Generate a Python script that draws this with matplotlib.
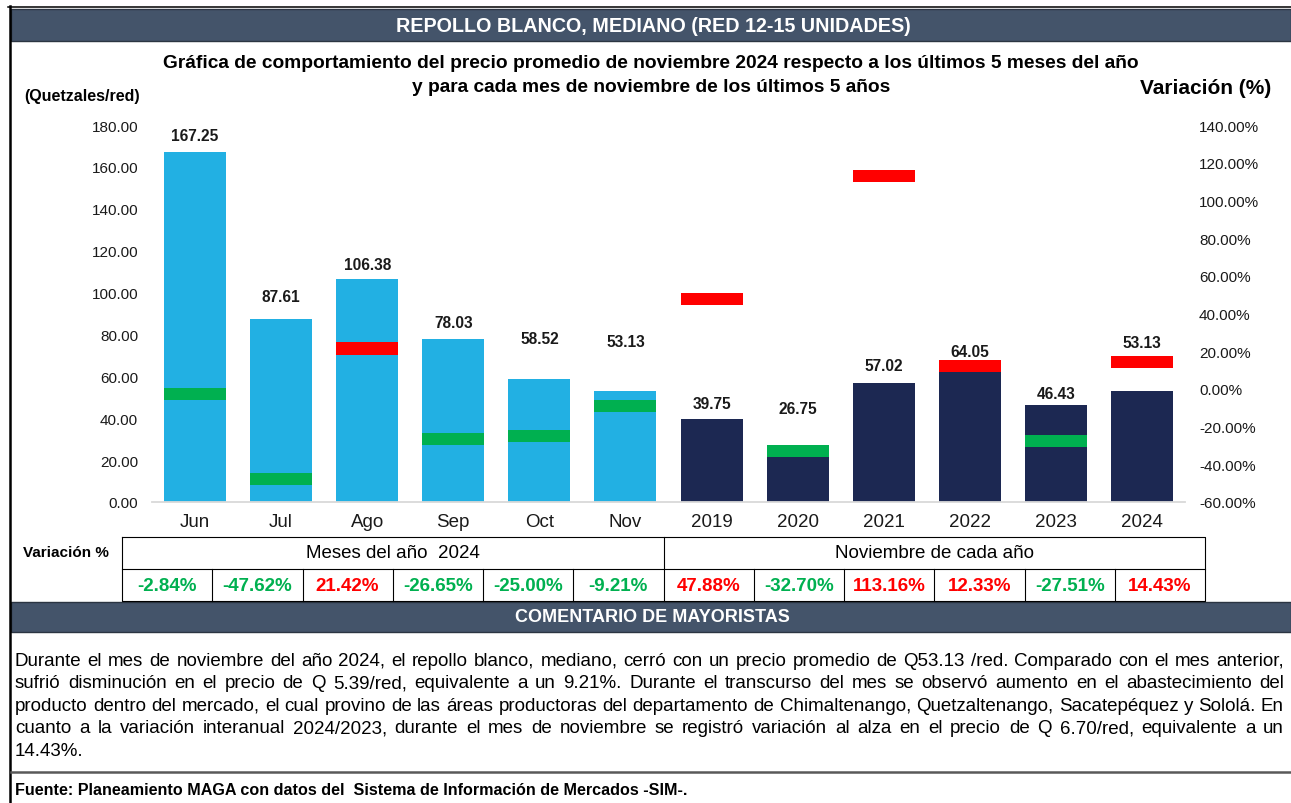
import matplotlib
matplotlib.use("Agg")
import matplotlib.pyplot as plt
from matplotlib.patches import Rectangle

plt.rcParams['font.family'] = ['Liberation Sans', 'DejaVu Sans']

# data
categories = ["Jun", "Jul", "Ago", "Sep", "Oct", "Nov",
              "2019", "2020", "2021", "2022", "2023", "2024"]
prices = [167.25, 87.61, 106.38, 78.03, 58.52, 53.13,
          39.75, 26.75, 57.02, 64.05, 46.43, 53.13]
variation = [-2.84, -47.62, 21.42, -26.65, -25.00, -9.21,
             47.88, -32.70, 113.16, 12.33, -27.51, 14.43]
group_names = ["Meses del año  2024", "Noviembre de cada año"]
n_months = 6

# how far (px) each price label sits above its bar in the original
label_offset = [16, 22, 15, 16, 41, 49, 15, 37, 17, 16, 11, 48]

title = "REPOLLO BLANCO, MEDIANO (RED 12-15 UNIDADES)"
subtitle = ["Gráfica de comportamiento del precio promedio de noviembre 2024 respecto a los últimos 5 meses del año",
            "y para cada mes de noviembre de los últimos 5 años"]
comment_lines = [
    "Durante el mes de noviembre del año 2024, el repollo blanco, mediano, cerró con un precio promedio de Q53.13 /red. Comparado con el mes anterior,",
    "sufrió disminución en el precio de Q 5.39/red, equivalente a un 9.21%. Durante el transcurso del mes se observó aumento en el abastecimiento del",
    "producto dentro del mercado, el cual provino de las áreas productoras del departamento de Chimaltenango, Quetzaltenango, Sacatepéquez y Sololá. En",
    "cuanto a la variación interanual 2024/2023, durante el mes de noviembre se registró variación al alza en el precio de Q 6.70/red, equivalente a un",
    "14.43%.",
]
source = "Fuente: Planeamiento MAGA con datos del  Sistema de Información de Mercados -SIM-."

W, H = 1291, 804
slate = "#44546A"
light_blue = "#22B0E3"
navy = "#1C2852"
red = "#FF0000"
green = "#00B050"

fig = plt.figure(figsize=(W / 100, H / 100), dpi=100)

# background axes in pixel units for the frame, bands, table and text
bg = fig.add_axes([0, 0, 1, 1])
bg.set_xlim(0, W)
bg.set_ylim(H, 0)
bg.axis('off')

# frame
bg.plot([9.5, 9.5], [7, H], color="black", lw=1.8)
bg.plot([8, W], [7.5, 7.5], color="black", lw=1.1)

# header band
bg.add_patch(Rectangle((11, 10), W - 11, 32, facecolor=slate, edgecolor="#2B3542", lw=1))
bg.text(653, 26, title, color="white", fontsize=14.25, fontweight="bold", ha="center", va="center")

bg.text(651, 63, subtitle[0], fontsize=13.8, fontweight="bold", ha="center", va="center")
bg.text(651, 87, subtitle[1], fontsize=13.8, fontweight="bold", ha="center", va="center")
bg.text(82, 96, "(Quetzales/red)", fontsize=11.5, fontweight="bold", ha="center", va="center")
bg.text(1271, 89, "Variación (%)", fontsize=15, fontweight="bold", ha="right", va="center")

# chart
ax = fig.add_axes([152 / W, 1 - 503 / H, (1185 - 152) / W, (503 - 126) / H])
ax.patch.set_alpha(0)
x = list(range(len(categories)))
bar_colors = [light_blue] * n_months + [navy] * (len(categories) - n_months)
ax.bar(x, prices, width=0.72, color=bar_colors, zorder=2)
ax.set_ylim(0, 180)
ax.set_xlim(-0.5, len(categories) - 0.5)
ax.set_yticks(range(0, 181, 20))
ax.set_yticklabels([f"{v:.2f}" for v in range(0, 181, 20)], fontsize=11, color="#1a1a1a")
ax.set_xticks(x)
ax.set_xticklabels(categories, fontsize=13.5, color="#1a1a1a")
ax.tick_params(axis="y", length=0, pad=10)
ax.tick_params(axis="x", length=0, pad=8)
for s in ["top", "right", "left"]:
    ax.spines[s].set_visible(False)
ax.spines["bottom"].set_color("#D9D9D9")
ax.spines["bottom"].set_linewidth(1.3)

for i, (p, off) in enumerate(zip(prices, label_offset)):
    ax.annotate(f"{p:.2f}", (i, p), xytext=(0, off * 0.72), textcoords="offset points",
                ha="center", va="center", fontsize=11.2, fontweight="bold", color="#1a1a1a")

ax2 = ax.twinx()
ax2.set_ylim(-60, 140)
ax2.set_yticks(range(-60, 141, 20))
ax2.set_yticklabels([f"{v:.2f}%" for v in range(-60, 141, 20)], fontsize=11, color="#1a1a1a")
ax2.tick_params(axis="y", length=0, pad=10)
for s in ["top", "right", "left", "bottom"]:
    ax2.spines[s].set_visible(False)
mark_colors = [red if v > 0 else green for v in variation]
ax2.bar(x, 6.4, bottom=[v - 3.2 for v in variation], width=0.72, color=mark_colors, zorder=3)

# variation table
t_left, t_right = 122, 1205
t_top, t_mid, t_bot = 538, 570, 602
cell = (t_right - t_left) / len(categories)
tk = dict(color="black", lw=0.8)
bg.plot([t_left, t_right, t_right, t_left, t_left], [t_top, t_top, t_bot, t_bot, t_top], **tk)
bg.plot([t_left, t_right], [t_mid, t_mid], **tk)
for k in range(1, len(categories)):
    xk = t_left + k * cell
    bg.plot([xk, xk], [t_mid if k != n_months else t_top, t_bot], **tk)
bg.text(66, 553, "Variación %", fontsize=11, fontweight="bold", ha="center", va="center")
half = (t_right - t_left) / 2
for g, name in enumerate(group_names):
    bg.text(t_left + half * (g + 0.5), 554, name, fontsize=13.5, ha="center", va="center")
for k, v in enumerate(variation):
    bg.text(t_left + (k + 0.5) * cell, 587, f"{v:.2f}%", fontsize=13.5, fontweight="bold",
            color=mark_colors[k], ha="center", va="center")

# comment band
bg.add_patch(Rectangle((11, 603), W - 11, 30, facecolor=slate, edgecolor="#2B3542", lw=1))
bg.text(652, 618, "COMENTARIO DE MAYORISTAS", color="white", fontsize=13,
        fontweight="bold", ha="center", va="center")

# justified comment text (last line left aligned)
renderer = fig.canvas.get_renderer()
x0, x1 = 15, 1284
body_size = 13.5
for j, line in enumerate(comment_lines):
    y = 666 + 22.5 * j
    words = line.split(" ")
    texts = [bg.text(x0, y, w, fontsize=body_size, ha="left", va="baseline") for w in words]
    widths = [t.get_window_extent(renderer).width for t in texts]
    if j < len(comment_lines) - 1 and len(words) > 1:
        gap = (x1 - x0 - sum(widths)) / (len(words) - 1)
    else:
        gap = body_size * 0.278 * 100 / 72
    xx = x0
    for t, w in zip(texts, widths):
        t.set_x(xx)
        xx += w + gap

bg.plot([11, W], [773, 773], color="#595959", lw=1.8)
bg.text(15, 791, source, fontsize=11.6, fontweight="bold", ha="left", va="center")

fig.savefig("out.png", dpi=100)
